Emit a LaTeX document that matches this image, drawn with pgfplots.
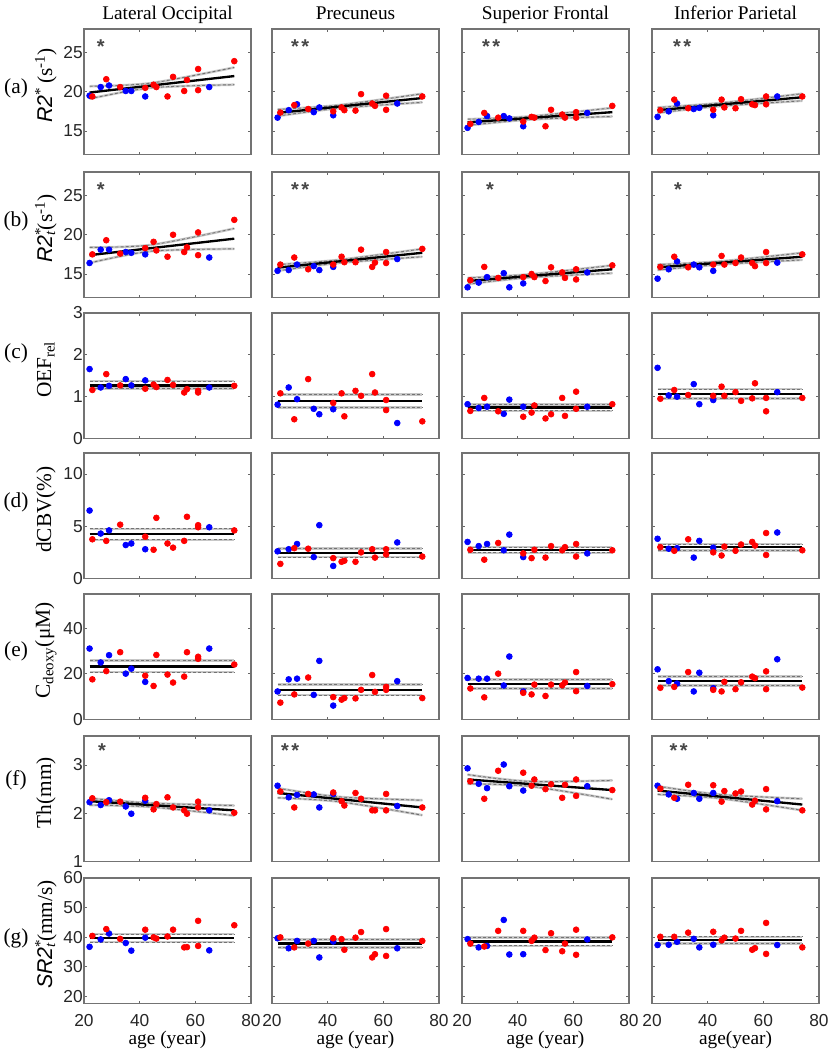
\documentclass[border=0pt]{standalone}
\usepackage{pgfplots}
\pgfplotsset{compat=1.18}
\usepackage{fontspec}
\setmainfont{Liberation Serif}
\setsansfont{Liberation Sans}

\newcommand{\labfont}{\fontsize{11.6}{13}\selectfont}
\newcommand{\ylabfont}{\fontsize{12.8}{14}\selectfont}
\tikzset{
  lab/.style={font=\ylabfont},
  star/.style={font=\sffamily\bfseries\fontsize{12}{12}\selectfont, text=black!72, inner sep=0pt},
}
\pgfplotsset{
  panel/.style={scale only axis, width=100.2pt, height=75.3pt, anchor=north west,
    xmin=20, xmax=80, xtick={20,40,60,80}, xticklabels={},
    tick align=inside, major tick length=1.6pt,
    axis line style={draw=black!55, line width=0.95pt},
    every tick/.style={black!60, line width=0.5pt},
    tick label style={font=\sffamily\fontsize{10.4}{11}\selectfont, text=black!85},
    yticklabel style={inner xsep=0.6pt},
    xticklabel style={yshift=-2.8pt},
    /pgf/number format/assume math mode=true,
    clip=false,
    ylabel style={font=\ylabfont, at={(-0.228,0.55)}, anchor=center},
    title style={anchor=base, font=\labfont},
  },
  inner/.style={yticklabels={}},
  bottom/.style={xticklabels={20,40,60,80}, xlabel style={at={(0.5,-0.325)}, anchor=base, font=\labfont}},
  rowa/.style={ymin=12,ymax=28,ytick={15,20,25}},
  rowc/.style={ymin=0,ymax=3,ytick={0,1,2,3}},
  rowd/.style={ymin=0,ymax=12,ytick={0,5,10}},
  rowe/.style={ymin=0,ymax=55,ytick={0,20,40}},
  rowf/.style={ymin=1,ymax=3.6,ytick={1,2,3}},
  rowg/.style={ymin=17.5,ymax=60,ytick={20,30,40,50,60}},
  bl/.style={only marks, mark=*, mark size=1.75pt, color={rgb,255:red,0;green,0;blue,255}},
  rdm/.style={only marks, mark=*, mark size=1.75pt, color={rgb,255:red,255;green,0;blue,0}},
  fit/.style={black, line width=1.4pt, no marks},
  ci/.style={no marks, draw=black!55, line width=0.55pt, dash pattern=on 1.8pt off 1.3pt,
     preaction={draw=black!22, line width=1.5pt, solid}},
}
% flat fit: line, upper, lower
\newcommand{\flatfit}[3]{%
  \addplot[ci] coordinates {(22,#2)(74,#2)};
  \addplot[ci] coordinates {(22,#3)(74,#3)};
  \addplot[fit] coordinates {(22,#1)(74,#1)};}
% sloped fit: start, end, upper(22,44,74), lower(22,44,74)
\newcommand{\slopefit}[8]{%
  \addplot[ci,smooth] coordinates {(22,#3)(44,#4)(74,#5)};
  \addplot[ci,smooth] coordinates {(22,#6)(44,#7)(74,#8)};
  \addplot[fit] coordinates {(22,#1)(74,#2)};}
\newcommand{\sfi}[1]{\textsf{\textit{#1}}}

\begin{document}
\begin{tikzpicture}
\useasboundingbox (0,0) rectangle (496.8pt,-630pt);

%================ ROW a =================
\begin{axis}[panel, rowa, at={(50.4pt,-17.4pt)}, title={Lateral Occipital},
  ylabel={\sfi{R2}\textsuperscript{*}\,(s\textsuperscript{-1})}]
\addplot[bl] coordinates {(22,19.5)(26,20.6)(29,20.8)(35,20.1)(37,20.1)(42,19.4)(65,20.6)};
\addplot[rdm] coordinates {(23,19.4)(28,21.6)(33,20.6)(42,20.5)(45,20.9)(46,20.6)(50,19.4)(52,21.9)(56,20.1)(57,21.5)(61,22.9)(61,20.2)(74,23.9)};
\slopefit{19.9}{22.0}{20.7}{21.1}{23.1}{19.1}{20.5}{20.9}
\node[star] at (rel axis cs:0.10,0.86) {*};
\node[lab] at (rel axis cs:-0.407,0.53) {(a)};
\end{axis}
\begin{axis}[panel, rowa, inner, at={(163.2pt,-17.4pt)}, title={Precuneus}]
\addplot[bl] coordinates {(22,16.7)(26,17.65)(29,18.4)(35,17.4)(37,18.0)(42,17.0)(65,18.5)};
\addplot[rdm] coordinates {(23,17.35)(28,18.3)(33,17.8)(42,17.5)(45,18.0)(46,17.65)(50,17.6)(52,19.7)(56,18.5)(57,18.2)(61,19.5)(61,17.7)(74,19.4)};
\slopefit{17.3}{19.2}{17.75}{18.3}{19.75}{16.9}{17.9}{18.65}
\node[star] at (rel axis cs:0.168,0.86) {*\hspace{1.5pt}*};
\end{axis}
\begin{axis}[panel, rowa, inner, at={(277.2pt,-17.4pt)}, title={Superior Frontal}]
\addplot[bl] coordinates {(22,15.4)(26,16.15)(29,16.9)(35,16.9)(37,16.6)(42,15.6)(65,17.3)};
\addplot[rdm] coordinates {(23,15.9)(28,17.3)(33,16.7)(42,16.2)(45,16.8)(46,16.7)(50,15.6)(52,17.7)(56,17.1)(57,16.7)(61,17.4)(61,16.7)(74,18.2)};
\slopefit{16.1}{17.4}{16.5}{16.85}{17.95}{15.7}{16.45}{16.85}
\node[star] at (rel axis cs:0.174,0.86) {*\hspace{1.5pt}*};
\end{axis}
\begin{axis}[panel, rowa, inner, at={(391.2pt,-17.4pt)}, title={Inferior Parietal}]
\addplot[bl] coordinates {(22,16.8)(26,17.5)(29,18.5)(35,17.8)(37,17.95)(42,17.0)(65,19.4)};
\addplot[rdm] coordinates {(23,17.65)(28,19.0)(33,17.9)(42,17.7)(45,19.0)(46,18.0)(50,17.9)(52,19.05)(56,18.4)(57,18.3)(61,19.4)(61,18.4)(74,19.4)};
\slopefit{17.65}{19.3}{18.0}{18.55}{19.75}{17.3}{18.15}{18.85}
\node[star] at (rel axis cs:0.18,0.86) {*\hspace{1.5pt}*};
\end{axis}

%================ ROW b =================
\begin{axis}[panel, rowa, at={(50.4pt,-103.2pt)},
  ylabel={\sfi{R2}\rlap{\textsuperscript{*}}\textsubscript{\textit{t}}(s\textsuperscript{-1})}]
\addplot[bl] coordinates {(22,16.4)(26,18.1)(29,18.1)(35,17.8)(37,17.7)(42,17.5)(65,17.1)};
\addplot[rdm] coordinates {(23,17.5)(28,19.3)(33,17.6)(42,18.3)(45,19.1)(46,18.0)(50,17.2)(52,20.0)(56,17.8)(57,18.4)(61,20.3)(61,17.4)(74,21.9)};
\slopefit{17.4}{19.5}{18.4}{18.7}{20.8}{16.4}{17.9}{18.2}
\node[star] at (rel axis cs:0.10,0.86) {*};
\node[lab] at (rel axis cs:-0.407,0.61) {(b)};
\end{axis}
\begin{axis}[panel, rowa, inner, at={(163.2pt,-103.2pt)}]
\addplot[bl] coordinates {(22,15.4)(26,15.5)(29,16.2)(35,16.0)(37,15.5)(42,15.9)(65,16.9)};
\addplot[rdm] coordinates {(23,16.2)(28,17.1)(33,15.6)(42,16.2)(45,17.2)(46,16.5)(50,16.5)(52,18.1)(56,15.9)(57,16.45)(61,17.8)(61,16.4)(74,18.2)};
\slopefit{15.8}{17.7}{16.2}{16.8}{18.2}{15.4}{16.4}{17.2}
\node[star] at (rel axis cs:0.168,0.86) {*\hspace{1.5pt}*};
\end{axis}
\begin{axis}[panel, rowa, inner, at={(277.2pt,-103.2pt)}]
\addplot[bl] coordinates {(22,13.3)(26,13.9)(29,14.6)(35,15.1)(37,13.3)(42,13.8)(65,15.2)};
\addplot[rdm] coordinates {(23,14.2)(28,15.9)(33,14.5)(42,14.6)(45,15.0)(46,14.6)(50,14.1)(52,15.85)(56,15.2)(57,14.5)(61,15.6)(61,14.3)(74,16.1)};
\slopefit{14.1}{15.6}{14.5}{14.95}{16.1}{13.7}{14.55}{15.1}
\node[star] at (rel axis cs:0.168,0.86) {*};
\end{axis}
\begin{axis}[panel, rowa, inner, at={(391.2pt,-103.2pt)}]
\addplot[bl] coordinates {(22,14.4)(26,15.6)(29,16.6)(35,16.2)(37,15.85)(42,15.4)(65,16.45)};
\addplot[rdm] coordinates {(23,15.9)(28,17.2)(33,15.85)(42,16.2)(45,17.3)(46,16.2)(50,16.4)(52,17.1)(56,16.4)(57,16.0)(61,17.8)(61,16.4)(74,17.5)};
\slopefit{15.85}{17.2}{16.2}{16.6}{17.7}{15.5}{16.2}{16.8}
\node[star] at (rel axis cs:0.156,0.86) {*};
\end{axis}

%================ ROW c =================
\begin{axis}[panel, rowc, at={(50.4pt,-187.8pt)}, ylabel={OEF\textsubscript{rel}}]
\addplot[bl] coordinates {(22,1.66)(26,1.22)(29,1.26)(35,1.42)(37,1.27)(42,1.39)(65,1.22)};
\addplot[rdm] coordinates {(23,1.16)(28,1.54)(33,1.27)(42,1.19)(45,1.29)(46,1.23)(50,1.40)(52,1.28)(56,1.10)(57,1.18)(61,1.14)(61,1.10)(74,1.26)};
\flatfit{1.27}{1.37}{1.19}
\node[lab] at (rel axis cs:-0.407,0.68) {(c)};
\end{axis}
\begin{axis}[panel, rowc, inner, at={(163.2pt,-187.8pt)}]
\addplot[bl] coordinates {(22,0.81)(26,1.22)(29,0.94)(35,0.71)(37,0.58)(42,0.70)(65,0.37)};
\addplot[rdm] coordinates {(23,1.08)(28,0.46)(33,1.42)(42,0.85)(45,1.08)(46,0.53)(50,1.14)(52,1.02)(56,1.54)(57,1.10)(61,0.92)(61,0.68)(74,0.41)};
\flatfit{0.89}{1.05}{0.74}
\end{axis}
\begin{axis}[panel, rowc, inner, at={(277.2pt,-187.8pt)}]
\addplot[bl] coordinates {(22,0.82)(26,0.73)(29,0.76)(35,0.59)(37,0.93)(42,0.76)(65,0.76)};
\addplot[rdm] coordinates {(23,0.66)(28,0.97)(33,0.65)(42,0.52)(45,0.62)(46,0.79)(50,0.48)(52,0.58)(56,0.97)(57,0.54)(61,1.12)(61,0.71)(74,0.82)};
\flatfit{0.74}{0.81}{0.66}
\end{axis}
\begin{axis}[panel, rowc, inner, at={(391.2pt,-187.8pt)}]
\addplot[bl] coordinates {(22,1.69)(26,1.03)(29,1.00)(35,1.30)(37,0.82)(42,0.92)(65,1.11)};
\addplot[rdm] coordinates {(23,0.95)(28,1.16)(33,1.04)(42,1.02)(45,1.24)(46,1.02)(50,1.11)(52,0.90)(56,0.96)(57,1.32)(61,0.97)(61,0.65)(74,0.97)};
\flatfit{1.07}{1.18}{0.96}
\end{axis}

%================ ROW d =================
\begin{axis}[panel, rowd, at={(50.4pt,-271.8pt)}, ylabel={dCBV(\%)}]
\addplot[bl] coordinates {(22,6.5)(26,4.3)(29,4.6)(35,3.2)(37,3.35)(42,2.8)(65,4.9)};
\addplot[rdm] coordinates {(23,3.75)(28,3.6)(33,5.15)(42,4.0)(45,2.75)(46,5.8)(50,3.35)(52,2.95)(56,3.6)(57,5.9)(61,5.1)(61,4.9)(74,4.6)};
\flatfit{4.25}{4.75}{3.7}
\node[lab] at (rel axis cs:-0.407,0.61) {(d)};
\end{axis}
\begin{axis}[panel, rowd, inner, at={(163.2pt,-271.8pt)}]
\addplot[bl] coordinates {(22,2.6)(26,2.8)(29,3.3)(35,2.05)(37,5.1)(42,1.2)(65,3.45)};
\addplot[rdm] coordinates {(23,1.4)(28,2.9)(33,2.85)(42,1.95)(45,1.6)(46,1.7)(50,1.6)(52,2.5)(56,2.8)(57,2.0)(61,2.8)(61,2.3)(74,2.1)};
\flatfit{2.45}{2.85}{2.05}
\end{axis}
\begin{axis}[panel, rowd, inner, at={(277.2pt,-271.8pt)}]
\addplot[bl] coordinates {(22,3.5)(26,3.1)(29,3.3)(35,2.7)(37,4.2)(42,2.05)(65,2.4)};
\addplot[rdm] coordinates {(23,2.75)(28,1.8)(33,3.4)(42,2.4)(45,1.95)(46,2.75)(50,2.0)(52,3.1)(56,2.7)(57,3.0)(61,3.3)(61,2.1)(74,2.7)};
\flatfit{2.75}{3.0}{2.45}
\end{axis}
\begin{axis}[panel, rowd, inner, at={(391.2pt,-271.8pt)}]
\addplot[bl] coordinates {(22,3.8)(26,2.85)(29,2.9)(35,2.0)(37,3.6)(42,2.95)(65,4.4)};
\addplot[rdm] coordinates {(23,3.0)(28,2.65)(33,3.75)(42,2.5)(45,2.2)(46,3.05)(50,2.65)(52,3.25)(56,3.5)(57,3.15)(61,4.35)(61,2.25)(74,2.7)};
\flatfit{3.0}{3.3}{2.7}
\end{axis}

%================ ROW e =================
\begin{axis}[panel, rowe, at={(50.4pt,-356.4pt)}, ylabel={C\textsubscript{deoxy}(μM)}]
\addplot[bl] coordinates {(22,31.1)(26,25.0)(29,28.2)(35,20.1)(37,22.3)(42,16.5)(65,31.1)};
\addplot[rdm] coordinates {(23,17.6)(28,21.2)(33,29.5)(42,19.2)(45,14.7)(46,28.3)(50,19.7)(52,16.2)(56,18.8)(57,29.5)(61,27.5)(61,26.6)(74,24.1)};
\flatfit{23.3}{25.8}{20.8}
\node[lab] at (rel axis cs:-0.407,0.54) {(e)};
\end{axis}
\begin{axis}[panel, rowe, inner, at={(163.2pt,-356.4pt)}]
\addplot[bl] coordinates {(22,12.3)(26,17.6)(29,17.9)(35,10.8)(37,25.7)(42,6.1)(65,16.8)};
\addplot[rdm] coordinates {(23,7.4)(28,11.0)(33,18.4)(42,9.8)(45,8.7)(46,9.4)(50,9.25)(52,13.0)(56,19.5)(57,12.1)(61,14.3)(61,13.0)(74,9.4)};
\flatfit{13.0}{15.3}{10.7}
\end{axis}
\begin{axis}[panel, rowe, inner, at={(277.2pt,-356.4pt)}]
\addplot[bl] coordinates {(22,18.2)(26,17.9)(29,17.9)(35,14.9)(37,27.6)(42,12.3)(65,14.7)};
\addplot[rdm] coordinates {(23,13.6)(28,9.7)(33,20.1)(42,11.7)(45,11.0)(46,15.3)(50,10.3)(52,15.3)(56,15.0)(57,16.2)(61,20.8)(61,12.4)(74,15.5)};
\flatfit{15.5}{17.6}{13.5}
\end{axis}
\begin{axis}[panel, rowe, inner, at={(391.2pt,-356.4pt)}]
\addplot[bl] coordinates {(22,22.0)(26,16.8)(29,15.75)(35,12.3)(37,20.5)(42,13.7)(65,26.4)};
\addplot[rdm] coordinates {(23,13.9)(28,14.3)(33,20.8)(42,13.0)(45,12.3)(46,16.5)(50,13.3)(52,16.3)(56,18.8)(57,18.1)(61,21.1)(61,13.3)(74,14.0)};
\flatfit{16.9}{18.8}{14.9}
\end{axis}

%================ ROW f =================
\begin{axis}[panel, rowf, at={(50.4pt,-441.6pt)}, ylabel={Th(mm)}]
\addplot[bl] coordinates {(22,2.23)(26,2.17)(29,2.27)(35,2.14)(37,1.99)(42,2.26)(65,2.06)};
\addplot[rdm] coordinates {(23,2.31)(28,2.23)(33,2.24)(42,2.32)(45,2.08)(46,2.19)(50,2.33)(52,2.12)(56,2.06)(57,1.99)(61,2.24)(61,2.12)(74,2.01)};
\slopefit{2.25}{2.06}{2.31}{2.21}{2.16}{2.17}{2.13}{1.95}
\node[star] at (rel axis cs:0.108,0.88) {*};
\node[lab] at (rel axis cs:-0.407,0.65) {(f)};
\end{axis}
\begin{axis}[panel, rowf, inner, at={(163.2pt,-441.6pt)}]
\addplot[bl] coordinates {(22,2.57)(26,2.33)(29,2.38)(35,2.39)(37,2.12)(42,2.40)(65,2.15)};
\addplot[rdm] coordinates {(23,2.45)(28,2.12)(33,2.40)(42,2.43)(45,2.25)(46,2.16)(50,2.42)(52,2.30)(56,2.06)(57,2.06)(61,2.40)(61,2.06)(74,2.12)};
\slopefit{2.42}{2.12}{2.52}{2.34}{2.27}{2.32}{2.24}{1.96}
\node[star] at (rel axis cs:0.108,0.88) {*\hspace{1.5pt}*};
\end{axis}
\begin{axis}[panel, rowf, inner, at={(277.2pt,-441.6pt)}]
\addplot[bl] coordinates {(22,2.93)(26,2.61)(29,2.52)(35,3.01)(37,2.56)(42,2.47)(65,2.56)};
\addplot[rdm] coordinates {(23,2.66)(28,2.30)(33,2.88)(42,2.84)(45,2.57)(46,2.70)(50,2.50)(52,2.60)(56,2.32)(57,2.59)(61,2.70)(61,2.36)(74,2.48)};
\slopefit{2.70}{2.48}{2.80}{2.66}{2.68}{2.61}{2.56}{2.29}
\end{axis}
\begin{axis}[panel, rowf, inner, at={(391.2pt,-441.6pt)}]
\addplot[bl] coordinates {(22,2.57)(26,2.39)(29,2.30)(35,2.42)(37,2.30)(42,2.42)(65,2.25)};
\addplot[rdm] coordinates {(23,2.51)(28,2.32)(33,2.59)(42,2.58)(45,2.24)(46,2.46)(50,2.41)(52,2.45)(56,2.18)(57,2.26)(61,2.50)(61,2.08)(74,2.06)};
\slopefit{2.47}{2.18}{2.56}{2.39}{2.30}{2.39}{2.31}{2.06}
\node[star] at (rel axis cs:0.16,0.88) {*\hspace{1.5pt}*};
\end{axis}

%================ ROW g =================
\begin{axis}[panel, rowg, bottom, at={(50.4pt,-526.8pt)}, xlabel={age (year)},
  ylabel={\sfi{SR2}\rlap{\textsuperscript{*}}\textsubscript{\textit{t}}(mm/s)}]
\addplot[bl] coordinates {(22,36.7)(26,39.2)(29,41.2)(35,38.0)(37,35.4)(42,39.8)(65,35.5)};
\addplot[rdm] coordinates {(23,40.4)(28,42.7)(33,39.4)(42,42.5)(45,39.9)(46,39.5)(50,40.2)(52,42.5)(56,36.5)(57,36.6)(61,45.5)(61,37.0)(74,44.0)};
\flatfit{39.6}{41.0}{38.3}
\node[lab] at (rel axis cs:-0.407,0.52) {(g)};
\end{axis}
\begin{axis}[panel, rowg, inner, bottom, at={(163.2pt,-526.8pt)}, xlabel={age (year)}]
\addplot[bl] coordinates {(22,39.6)(26,36.2)(29,38.7)(35,38.7)(37,33.1)(42,38.5)(65,36.2)};
\addplot[rdm] coordinates {(23,39.9)(28,36.5)(33,37.8)(42,39.6)(45,39.3)(46,35.7)(50,39.8)(52,41.7)(56,33.1)(57,34.2)(61,42.7)(61,33.6)(74,38.7)};
\flatfit{37.8}{39.2}{36.4}
\end{axis}
\begin{axis}[panel, rowg, inner, bottom, at={(277.2pt,-526.8pt)}, xlabel={age (year)}]
\addplot[bl] coordinates {(22,39.3)(26,36.5)(29,37.0)(35,45.8)(37,34.1)(42,34.2)(65,39.2)};
\addplot[rdm] coordinates {(23,37.8)(28,36.8)(33,42.1)(42,42.1)(45,38.7)(46,39.8)(50,35.6)(52,41.3)(56,35.2)(57,37.8)(61,42.5)(61,34.0)(74,39.9)};
\flatfit{38.5}{39.8}{37.0}
\end{axis}
\begin{axis}[panel, rowg, inner, bottom, at={(391.2pt,-526.8pt)}, xlabel={age(year)}]
\addplot[bl] coordinates {(22,37.3)(26,37.4)(29,38.4)(35,39.4)(37,36.5)(42,37.4)(65,37.3)};
\addplot[rdm] coordinates {(23,40.1)(28,40.1)(33,41.5)(42,41.8)(45,38.9)(46,39.8)(50,39.5)(52,42.1)(56,35.7)(57,36.25)(61,44.8)(61,34.3)(74,36.5)};
\flatfit{38.9}{40.1}{37.8}
\end{axis}
\end{tikzpicture}
\end{document}
